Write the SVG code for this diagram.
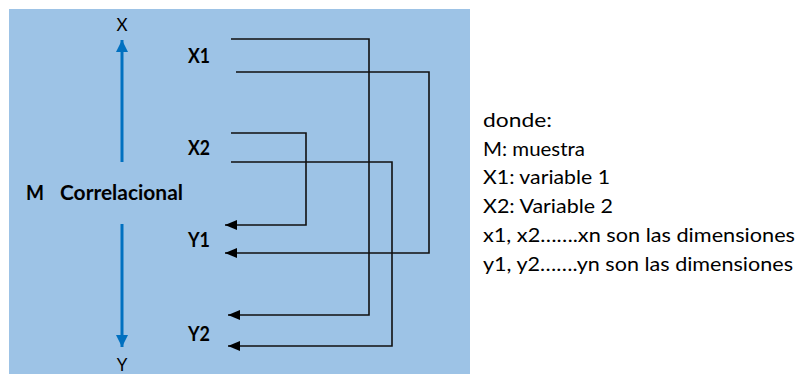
<svg xmlns="http://www.w3.org/2000/svg" width="798" height="374" viewBox="0 0 798 374">
  <style>
    .lbl { font-family: "Lato", "Liberation Sans", Arial, sans-serif; fill: #000; }
    .b { font-weight: bold; font-size: 20px; }
    .axis { font-size: 17px; }
    .note { font-family: "Lato", "Liberation Sans", sans-serif; font-size: 20px; fill: #000; }
    .link { fill: none; stroke: #111; stroke-width: 1.6; marker-end: url(#head); }
    .dir { fill: none; stroke: #0070C0; stroke-width: 3; marker-end: url(#bhead); }
  </style>
  <defs>
    <marker id="head" viewBox="0 0 12 10" refX="12" refY="5" markerWidth="12" markerHeight="10" markerUnits="userSpaceOnUse" orient="auto">
      <path d="M0,0 L12,5 L0,10 Z" fill="#000"/>
    </marker>
    <marker id="bhead" viewBox="0 0 12 12" refX="12" refY="6" markerWidth="12" markerHeight="12" markerUnits="userSpaceOnUse" orient="auto">
      <path d="M0,0 L12,6 L0,12 Z" fill="#0070C0"/>
    </marker>
  </defs>

  <!-- background panel -->
  <rect x="9" y="9" width="461" height="365" fill="#9DC3E6"/>

  <!-- sample axis -->
  <g id="axis">
    <path class="dir" d="M122,162 V40"/>
    <path class="dir" d="M122,224 V347"/>
    <text class="lbl axis" x="122" y="31" text-anchor="middle">X</text>
    <text class="lbl axis" x="122" y="371" text-anchor="middle">Y</text>
  </g>

  <g id="sample">
    <text class="lbl b" x="26" y="200" textLength="18" lengthAdjust="spacingAndGlyphs">M</text>
    <text class="lbl b" x="60" y="200" textLength="123" lengthAdjust="spacingAndGlyphs">Correlacional</text>
  </g>

  <g id="x1"><text class="lbl b" x="188" y="63" textLength="22" lengthAdjust="spacingAndGlyphs">X1</text></g>
  <g id="x2"><text class="lbl b" x="188" y="155" textLength="22" lengthAdjust="spacingAndGlyphs">X2</text></g>
  <g id="y1"><text class="lbl b" x="188" y="247" textLength="22" lengthAdjust="spacingAndGlyphs">Y1</text></g>
  <g id="y2"><text class="lbl b" x="188" y="341" textLength="22" lengthAdjust="spacingAndGlyphs">Y2</text></g>

  <!-- connectors -->
  <g id="connectors">
    <path class="link" d="M231,39 H369 V315 H228"/>
    <path class="link" d="M236,72 H429 V253 H225"/>
    <path class="link" d="M231,133 H306 V225 H225"/>
    <path class="link" d="M231,162 H392 V346 H228"/>
  </g>

  <!-- legend -->
  <g id="legend">
    <text class="note" x="483" y="127" textLength="69" lengthAdjust="spacingAndGlyphs">donde:</text>
    <text class="note" x="483" y="156" textLength="102" lengthAdjust="spacingAndGlyphs">M: muestra</text>
    <text class="note" x="483" y="184" textLength="127" lengthAdjust="spacingAndGlyphs">X1: variable 1</text>
    <text class="note" x="483" y="213" textLength="130" lengthAdjust="spacingAndGlyphs">X2: Variable 2</text>
    <text class="note" x="483" y="242" textLength="312" lengthAdjust="spacingAndGlyphs">x1, x2…….xn son las dimensiones</text>
    <text class="note" x="483" y="271" textLength="310" lengthAdjust="spacingAndGlyphs">y1, y2…….yn son las dimensiones</text>
  </g>
</svg>
